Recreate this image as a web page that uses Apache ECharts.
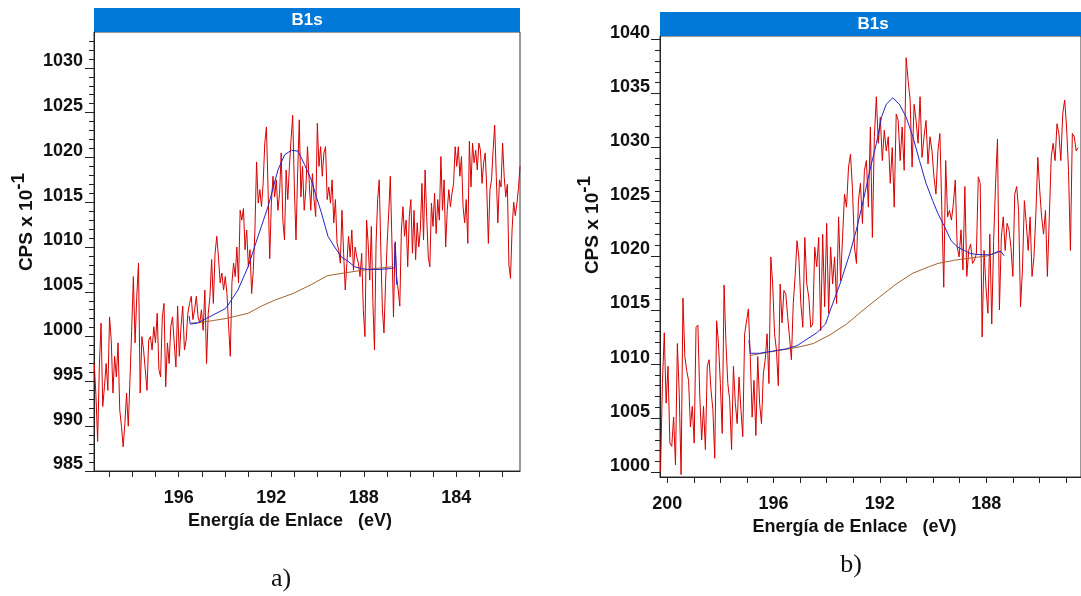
<!DOCTYPE html>
<html>
<head>
<meta charset="utf-8">
<script src="https://cdn.jsdelivr.net/npm/echarts@6/dist/echarts.min.js"></script>
<style>
  html, body { margin: 0; padding: 0; background: #ffffff; }
  #chart { width: 1081px; height: 596px; }
</style>
</head>
<body>
<div id="chart"></div>
<script>
// ---------- Sample a) : B1s raw counts (CPS x 10^-1), three consecutive energy blocks ----------
const A_BLOCK1_RANGE = [199.65, 193.84];
const A_BLOCK1 = [
  997.0, 993.5, 988.3, 996.6, 1001.5, 992.2, 994.4, 997.0, 994.0, 1002.2,
  999.6, 993.7, 997.8, 995.5, 999.3, 991.8, 990.0, 987.7, 990.3, 993.7,
  990.0, 995.2, 1000.7, 1006.7, 999.3, 1004.5, 1008.2, 993.7, 1000.0, 998.5,
  996.3, 994.0, 999.6, 1000.0, 998.5, 1001.1, 999.3, 1002.6, 996.3, 995.5,
  1002.2, 1003.7, 994.4, 999.3, 997.0, 1001.1, 1002.2, 999.3, 996.6, 1003.4,
  997.8, 1001.1, 1003.4, 998.5, 999.6, 1002.6, 1003.7, 1004.5, 1001.9, 1003.0,
  1004.5, 1002.2, 1001.5, 1003.0, 1000.7, 1005.2, 997.0, 1002.6, 1004.5, 1008.6,
  1003.7, 1009.3, 1011.2, 1008.9, 1006.0, 1007.1, 1005.2, 1006.7, 1004.8, 1001.1
];
const A_BLOCK2_RANGE = [193.77, 187.95];
const A_BLOCK2 = [
  997.8, 1006.0, 1008.2, 1006.7, 1010.0, 1006.0, 1014.1, 1013.0, 1014.3, 1009.7,
  1011.9, 1007.8, 1009.7, 1004.8, 1007.4, 1011.9, 1019.5, 1014.9, 1016.4, 1014.5,
  1017.1, 1021.6, 1023.4, 1016.4, 1008.7, 1014.9, 1017.9, 1015.6, 1017.5, 1014.1,
  1016.0, 1020.5, 1013.0, 1010.8, 1018.6, 1015.3, 1019.0, 1022.0, 1024.7, 1016.7,
  1010.8, 1018.2, 1024.2, 1015.6, 1019.0, 1014.1, 1016.4, 1021.2, 1017.5, 1014.1,
  1018.2, 1015.3, 1013.4, 1023.8, 1019.0, 1021.2, 1017.9, 1020.5, 1021.2, 1015.3,
  1016.7, 1014.9, 1017.5, 1012.7, 1015.3, 1010.4, 1009.7, 1008.2, 1014.1, 1009.3,
  1005.2, 1008.2, 1011.2, 1008.9, 1011.9, 1007.4, 1010.0, 1008.9, 1008.2, 1006.7,
  1009.3, 1003.0, 1000.0
];
const A_BLOCK3_RANGE = [187.88, 181.25];
const A_BLOCK3 = [
  1013.0, 1010.4, 1006.3, 1012.3, 1003.7, 998.5, 1010.4, 1015.3, 1017.5, 1009.7,
  1003.0, 1000.4, 1006.0, 1010.4, 1013.8, 1017.9, 1010.8, 1002.2, 1010.4, 1006.7,
  1005.2, 1003.4, 1011.9, 1014.5, 1011.2, 1013.0, 1007.8, 1013.4, 1015.3, 1009.3,
  1014.1, 1008.6, 1012.7, 1010.0, 1011.9, 1017.1, 1010.8, 1018.6, 1013.4, 1008.9,
  1007.8, 1014.9, 1012.3, 1016.0, 1011.5, 1015.3, 1013.0, 1020.1, 1014.1, 1017.5,
  1010.0, 1014.1, 1016.4, 1014.5, 1016.0, 1017.1, 1021.2, 1019.0, 1021.2, 1017.9,
  1020.1, 1014.5, 1012.7, 1015.3, 1010.4, 1021.8, 1016.7, 1021.6, 1019.4, 1020.8,
  1018.6, 1021.6, 1020.8, 1017.1, 1019.4, 1020.5, 1016.4, 1010.4, 1016.4, 1017.5,
  1020.8, 1023.6, 1017.9, 1012.7, 1017.5, 1016.7, 1021.6, 1017.9, 1015.6, 1017.0,
  1008.0, 1006.5, 1012.0, 1015.0, 1013.5, 1014.8, 1016.5, 1019.0
];
// fitted envelope (peak + background) and Shirley background, sample a
const A_ENVELOPE_E = [195.55, 195.5, 195.2, 194.9, 194.6, 194.3, 194.0, 193.9, 193.44, 193.0, 192.57, 192.14, 191.71, 191.42, 191.13, 190.84, 190.56, 190.27, 190.05, 189.83, 189.55, 189.26, 188.97, 188.68, 188.4, 188.11, 187.82, 187.3, 186.8, 186.68, 186.64, 186.58];
const A_ENVELOPE_V = [1002.3, 1001.4, 1001.5, 1001.9, 1002.3, 1002.7, 1003.1, 1003.4, 1005.2, 1007.8, 1011.2, 1014.5, 1018.6, 1020.3, 1020.8, 1020.7, 1019.2, 1017.5, 1015.6, 1013.8, 1011.2, 1010.0, 1008.9, 1008.4, 1007.8, 1007.6, 1007.5, 1007.5, 1007.6, 1007.7, 1010.6, 1005.8];
const A_BACKGROUND_E = [195.48, 195.0, 194.5, 194.0, 193.5, 193.0, 192.43, 191.82, 191.07, 190.27, 189.58, 188.85, 188.09, 187.5, 186.75];
const A_BACKGROUND_V = [1001.5, 1001.6, 1001.8, 1002.0, 1002.3, 1002.6, 1003.4, 1004.1, 1004.8, 1005.8, 1006.8, 1007.1, 1007.4, 1007.6, 1007.8];

// ---------- Sample b) ----------
const B_BLOCK1_RANGE = [200.25, 195.08];
const B_BLOCK1 = [
  1000.1, 1008.2, 1012.9, 1006.4, 1009.8, 1002.7, 1002.4, 1005.1, 1000.7, 1011.9,
  1007.3, 999.8, 1016.1, 1010.7, 1009.4, 1008.5, 1004.2, 1006.1, 1002.7, 1013.4,
  1013.6, 1007.0, 1003.0, 1006.1, 1002.1, 1009.8, 1010.4, 1007.6, 1005.8, 1001.3,
  1014.0, 1011.9, 1008.2, 1003.6, 1017.3, 1011.9, 1008.2, 1006.7, 1002.1, 1009.8,
  1006.4, 1004.5, 1008.8, 1005.8, 1003.3, 1012.8, 1012.8, 1015.1, 1010.7, 1005.1,
  1008.5, 1003.4, 1010.7, 1006.4, 1004.5, 1009.1, 1010.4, 1012.8, 1008.2, 1019.9,
  1017.4, 1012.8, 1011.3, 1008.0, 1017.4, 1013.8, 1016.8, 1016.5, 1014.4, 1012.5,
  1010.4, 1015.6, 1018.1, 1021.4
];
const B_BLOCK2_RANGE = [195.01, 189.74];
const B_BLOCK2 = [
  1019.9, 1015.6, 1013.4, 1021.7, 1017.4, 1016.2, 1013.4, 1013.7, 1020.8, 1019.0,
  1021.7, 1013.1, 1022.0, 1015.3, 1023.0, 1014.7, 1020.8, 1017.4, 1019.9, 1015.6,
  1023.6, 1017.7, 1021.7, 1025.7, 1024.5, 1028.2, 1029.4, 1026.1, 1020.8, 1019.3,
  1025.1, 1026.7, 1023.0, 1027.9, 1028.8, 1024.5, 1031.9, 1021.7, 1031.0, 1034.7,
  1030.4, 1032.8, 1028.8, 1031.6, 1029.7, 1031.0, 1026.7, 1030.0, 1024.5, 1033.1,
  1032.5, 1028.8, 1031.9, 1027.9, 1038.3, 1036.2, 1034.4, 1028.2, 1034.0, 1032.5,
  1030.4, 1034.7, 1029.1, 1031.0, 1032.5, 1028.5, 1031.0, 1029.7, 1027.3, 1025.7,
  1029.7
];
const B_BLOCK3_RANGE = [189.665, 184.43];
const B_BLOCK3 = [
  1031.3, 1024.2, 1017.1, 1028.8, 1023.6, 1024.2, 1023.3, 1024.8, 1027.0, 1020.8,
  1019.9, 1022.4, 1018.7, 1026.4, 1018.1, 1020.5, 1021.1, 1019.3, 1019.6, 1020.2,
  1027.3, 1026.7, 1012.5, 1020.5, 1017.1, 1014.7, 1022.0, 1013.7, 1021.4, 1026.7,
  1030.8, 1015.0, 1021.7, 1023.6, 1020.5, 1023.0, 1022.4, 1020.8, 1018.1, 1025.7,
  1026.4, 1024.2, 1015.3, 1018.7, 1025.1, 1023.0, 1020.5, 1023.6, 1018.1, 1019.9,
  1023.9, 1029.1, 1026.1, 1023.6, 1022.0, 1024.2, 1018.1, 1023.6, 1029.1, 1030.4,
  1028.8, 1032.2, 1031.3, 1028.8, 1033.1, 1034.4, 1031.9, 1027.9, 1020.5, 1031.3,
  1031.0, 1029.7, 1030.0
];
const B_ENVELOPE_E = [196.9, 196.85, 196.5, 196.0, 195.5, 195.08, 194.33, 194.0, 193.83, 193.45, 193.08, 192.83, 192.57, 192.32, 192.07, 191.88, 191.7, 191.45, 191.2, 190.94, 190.69, 190.44, 190.19, 189.94, 189.74, 189.49, 189.24, 188.99, 188.74, 188.49, 188.11, 187.73, 187.48, 187.35, 187.23];
const B_ENVELOPE_V = [1012.2, 1011.0, 1011.0, 1011.2, 1011.4, 1011.7, 1012.9, 1013.7, 1014.9, 1017.4, 1020.2, 1022.4, 1025.1, 1027.9, 1030.4, 1032.8, 1034.0, 1034.6, 1034.0, 1032.8, 1031.0, 1028.8, 1026.7, 1025.1, 1023.9, 1022.7, 1021.4, 1020.8, 1020.5, 1020.2, 1020.1, 1020.1, 1020.4, 1020.4, 1020.0];
const B_BACKGROUND_E = [196.85, 196.16, 195.41, 194.97, 194.46, 193.83, 193.2, 192.57, 191.95, 191.32, 190.69, 190.07, 189.74, 189.11, 188.49, 187.86, 187.36];
const B_BACKGROUND_V = [1010.8, 1011.1, 1011.4, 1011.6, 1011.9, 1012.7, 1013.7, 1015.0, 1016.2, 1017.4, 1018.4, 1019.0, 1019.3, 1019.6, 1019.8, 1020.0, 1020.4];

// ---------- axis ticks and labels: [first, last, step] ----------
const A_X_TICKS = [182, 199, 1];
const A_X_LABELS = [184, 196, 4];
const A_Y_TICKS = [985, 1033, 1];
const A_Y_LABELS = [985, 1030, 5];
const B_X_TICKS = [185, 200, 1];
const B_X_LABELS = [188, 200, 4];
const B_Y_TICKS = [1000, 1040, 1];
const B_Y_LABELS = [1000, 1040, 5];

const PANEL_TITLE = 'B1s';
const X_NAME = 'Energía de Enlace   (eV)';
const Y_NAME = '{b|CPS x 10}{s|-1}';

// ---------- helpers ----------
// spread one block of counts over its energy span (constant instrument step)
function blockPoints(range, vals) {
  const n = vals.length;
  return vals.map((v, i) => [range[0] + (range[1] - range[0]) * i / (n - 1), v]);
}
function pairs(es, vs) { return es.map((e, i) => [e, vs[i]]); }

const rawA = [].concat(
  blockPoints(A_BLOCK1_RANGE, A_BLOCK1),
  blockPoints(A_BLOCK2_RANGE, A_BLOCK2),
  blockPoints(A_BLOCK3_RANGE, A_BLOCK3)
);
const rawB = [].concat(
  blockPoints(B_BLOCK1_RANGE, B_BLOCK1),
  blockPoints(B_BLOCK2_RANGE, B_BLOCK2),
  blockPoints(B_BLOCK3_RANGE, B_BLOCK3)
);

const FONT = 'Liberation Sans, Arial, sans-serif';
const INK = '#111111';
const AXIS_COLOR = '#222222';

const panels = [
  { grid: { left: 94, top: 32, width: 426, height: 439 }, x: [181.25, 199.66], y: [985.0, 1034.0],
    xTicks: A_X_TICKS, xLabels: A_X_LABELS, yTicks: A_Y_TICKS, yLabels: A_Y_LABELS,
    labelMargin: 11, nameShift: 34, yNameShift: 59 },
  { grid: { left: 660, top: 36, width: 424, height: 441 }, x: [184.32, 200.27], y: [999.57, 1040.31],
    xTicks: B_X_TICKS, xLabels: B_X_LABELS, yTicks: B_Y_TICKS, yLabels: B_Y_LABELS,
    labelMargin: 10, nameShift: 32, yNameShift: 63 }
];

const grids = [], xAxes = [], yAxes = [];
const plain = v => String(Math.round(v));

panels.forEach((p) => {
  const g = p.grid;
  // pixel position of a value on this panel's (inverted) energy axis and count axis
  const xPix = e => g.left + g.width * (p.x[1] - e) / (p.x[1] - p.x[0]);
  const yPix = v => g.top + g.height * (p.y[1] - v) / (p.y[1] - p.y[0]);
  const bottom = g.top + g.height;

  // main plot: data, frame, axis lines and titles
  const gi = grids.length;
  grids.push(Object.assign({ show: true, borderColor: '#333333', borderWidth: 1 }, g));
  p.xIndex = xAxes.length;
  xAxes.push({
    type: 'value', gridIndex: gi, inverse: true, min: p.x[0], max: p.x[1],
    axisLine: { show: true, lineStyle: { color: AXIS_COLOR, width: 1 } },
    axisTick: { show: false }, axisLabel: { show: false }, splitLine: { show: false },
    name: X_NAME, nameLocation: 'middle', nameGap: 41,
    nameTextStyle: { fontSize: 18, fontWeight: 'bold', fontFamily: FONT, color: INK, padding: [0, p.nameShift, 0, 0] }
  });
  p.yIndex = yAxes.length;
  yAxes.push({
    type: 'value', gridIndex: gi, min: p.y[0], max: p.y[1], position: 'left',
    axisLine: { show: true, lineStyle: { color: AXIS_COLOR, width: 1 } },
    axisTick: { show: false }, axisLabel: { show: false }, splitLine: { show: false },
    name: Y_NAME, nameLocation: 'middle', nameGap: 50,
    nameTextStyle: {
      fontSize: 19, fontWeight: 'bold', fontFamily: FONT, color: INK, padding: [0, 0, 0, p.yNameShift],
      rich: {
        b: { fontSize: 19, fontWeight: 'bold', fontFamily: FONT, color: INK },
        s: { fontSize: 19, fontWeight: 'bold', fontFamily: FONT, color: INK, padding: [0, 0, 16, 0] }
      }
    }
  });

  // tick scales: each spans exactly its first..last tick so that interval counting starts on a tick
  function tickGrid(xs, ys, xStyle, yStyle) {
    const left = xPix(xs[1]), right = xPix(xs[0]);
    const top = yPix(ys[1]), bot = yPix(ys[0]);
    const k = grids.length;
    grids.push({ show: false, left: left, top: top, width: right - left, height: bot - top });
    xAxes.push(Object.assign({
      type: 'value', gridIndex: k, inverse: true, min: xs[0], max: xs[1], interval: xs[2],
      offset: bottom - bot, axisLine: { show: false }, splitLine: { show: false }
    }, xStyle));
    yAxes.push(Object.assign({
      type: 'value', gridIndex: k, min: ys[0], max: ys[1], interval: ys[2], position: 'left',
      offset: left - g.left, axisLine: { show: false }, splitLine: { show: false }
    }, yStyle));
  }
  // every-unit ticks
  tickGrid(p.xTicks, p.yTicks,
    { axisTick: { show: true, length: 6, lineStyle: { color: AXIS_COLOR } }, axisLabel: { show: false } },
    { axisTick: { show: true, length: 5, lineStyle: { color: AXIS_COLOR } }, axisLabel: { show: false } });
  // labelled ticks
  tickGrid(p.xLabels, p.yLabels,
    { axisTick: { show: false },
      axisLabel: { show: true, margin: 18, fontSize: 18, fontWeight: 'bold', fontFamily: FONT, color: INK, formatter: plain } },
    { axisTick: { show: true, length: 9, lineStyle: { color: AXIS_COLOR } },
      axisLabel: { show: true, margin: p.labelMargin, fontSize: 18, fontWeight: 'bold', fontFamily: FONT, color: INK,
        verticalAlign: 'bottom', lineHeight: 13, formatter: plain } });
});

function lineSeries(xi, yi, data, color, z) {
  return { type: 'line', xAxisIndex: xi, yAxisIndex: yi, data: data, symbol: 'none', showSymbol: false,
    lineStyle: { color: color, width: 1 }, z: z, silent: true, animation: false };
}

const RED = '#d90000', BLUE = '#2424c8', BROWN = '#a2622e';
const pa = panels[0], pb = panels[1];
const series = [
  lineSeries(pa.xIndex, pa.yIndex, rawA, RED, 2),
  lineSeries(pa.xIndex, pa.yIndex, pairs(A_BACKGROUND_E, A_BACKGROUND_V), BROWN, 3),
  lineSeries(pa.xIndex, pa.yIndex, pairs(A_ENVELOPE_E, A_ENVELOPE_V), BLUE, 4),
  lineSeries(pb.xIndex, pb.yIndex, rawB, RED, 2),
  lineSeries(pb.xIndex, pb.yIndex, pairs(B_BACKGROUND_E, B_BACKGROUND_V), BROWN, 3),
  lineSeries(pb.xIndex, pb.yIndex, pairs(B_ENVELOPE_E, B_ENVELOPE_V), BLUE, 4)
];

// title bars above each plot and the panel captions
function titleBar(x, y, w, cx) {
  return { type: 'group', children: [
    { type: 'rect', shape: { x: x, y: y, width: w, height: 24 }, style: { fill: '#0078d7' } },
    { type: 'text', x: cx, y: y + 12.5, style: { text: PANEL_TITLE, fill: '#ffffff', font: 'bold 17px ' + FONT, textAlign: 'center', textVerticalAlign: 'middle' } }
  ] };
}
const graphic = [
  titleBar(94, 8, 426, 307),
  titleBar(660, 12, 424, 873),
  { type: 'text', x: 281, y: 579, style: { text: 'a)', fill: INK, font: '26px Liberation Serif, Times New Roman, serif', textAlign: 'center', textVerticalAlign: 'middle' } },
  { type: 'text', x: 851, y: 565, style: { text: 'b)', fill: INK, font: '26px Liberation Serif, Times New Roman, serif', textAlign: 'center', textVerticalAlign: 'middle' } }
];

const chart = echarts.init(document.getElementById('chart'), null, { renderer: 'canvas' });
chart.setOption({
  animation: false,
  backgroundColor: '#ffffff',
  grid: grids,
  xAxis: xAxes,
  yAxis: yAxes,
  series: series,
  graphic: graphic
});
</script>
</body>
</html>
